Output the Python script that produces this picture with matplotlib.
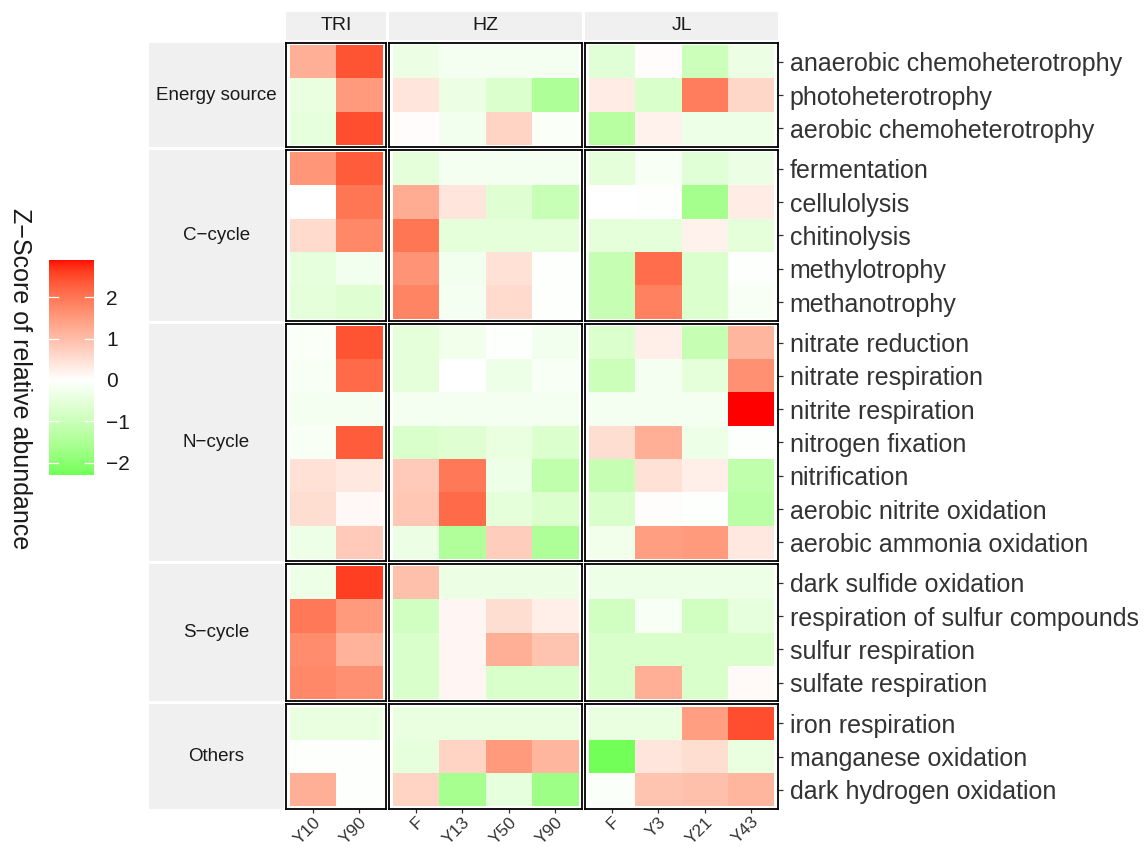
import numpy as np
import matplotlib
matplotlib.use("Agg")
import matplotlib.pyplot as plt
from matplotlib.colors import ListedColormap, Normalize

plt.rcParams['font.family'] = ['Liberation Sans', 'DejaVu Sans']

sites = ["TRI", "HZ", "JL"]
samples = {
    "TRI": ["Y10", "Y90"],
    "HZ": ["F", "Y13", "Y50", "Y90"],
    "JL": ["F", "Y3", "Y21", "Y43"],
}
groups = ["Energy source", "C\u2212cycle", "N\u2212cycle", "S\u2212cycle", "Others"]
group_sizes = [3, 5, 7, 4, 3]
functions = [
    "anaerobic chemoheterotrophy", "photoheterotrophy", "aerobic chemoheterotrophy",
    "fermentation", "cellulolysis", "chitinolysis", "methylotrophy", "methanotrophy",
    "nitrate reduction", "nitrate respiration", "nitrite respiration", "nitrogen fixation",
    "nitrification", "aerobic nitrite oxidation", "aerobic ammonia oxidation",
    "dark sulfide oxidation", "respiration of sulfur compounds", "sulfur respiration",
    "sulfate respiration",
    "iron respiration", "manganese oxidation", "dark hydrogen oxidation",
]

# z-scores, one row per function
tri_z = [
    [1.2, 2.4], [-0.45, 1.5], [-0.5, 2.45],
    [1.55, 2.3], [0.0, 2.0], [0.55, 1.75], [-0.5, -0.25], [-0.55, -0.65],
    [-0.1, 2.4], [-0.15, 2.15], [-0.2, -0.2], [-0.15, 2.3], [0.45, 0.35], [0.5, 0.1], [-0.35, 0.8],
    [-0.35, 2.6], [1.95, 1.5], [1.7, 1.15], [1.75, 1.65],
    [-0.45, -0.45], [-0.03, -0.03], [1.2, -0.03],
]
hz_z = [
    [-0.4, -0.2, -0.2, -0.2], [0.4, -0.4, -0.7, -1.5], [0.05, -0.25, 0.65, -0.1],
    [-0.55, -0.2, -0.2, -0.2], [1.25, 0.4, -0.65, -1.05], [2.0, -0.55, -0.55, -0.55],
    [1.6, -0.25, 0.45, -0.05], [1.8, -0.2, 0.55, -0.05],
    [-0.55, -0.3, -0.03, -0.25], [-0.55, 0.0, -0.35, -0.15], [-0.2, -0.2, -0.2, -0.2],
    [-0.75, -0.65, -0.45, -0.7], [0.8, 1.95, -0.35, -1.2], [0.85, 2.15, -0.55, -0.7],
    [-0.4, -1.45, 0.75, -1.5],
    [0.95, -0.4, -0.4, -0.4], [-0.9, 0.15, 0.5, 0.25], [-0.75, 0.15, 1.2, 0.9],
    [-0.75, 0.15, -0.75, -0.75],
    [-0.45, -0.45, -0.45, -0.45], [-0.5, 0.65, 1.5, 1.1], [0.65, -1.6, -0.5, -1.75],
]
jl_z = [
    [-0.6, 0.05, -1.0, -0.4], [0.3, -0.75, 1.9, 0.6], [-1.35, 0.2, -0.35, -0.35],
    [-0.55, -0.15, -0.6, -0.4], [0.0, -0.05, -1.65, 0.3], [-0.55, -0.55, 0.2, -0.55],
    [-1.1, 2.1, -0.7, -0.05], [-1.1, 1.85, -0.7, -0.15],
    [-0.7, 0.25, -1.1, 1.1], [-1.0, -0.2, -0.55, 1.65], [-0.2, -0.2, -0.2, 2.9],
    [0.5, 1.2, -0.35, -0.05], [-1.1, 0.45, 0.25, -1.2], [-0.75, 0.03, -0.05, -1.3],
    [-0.3, 1.45, 1.5, 0.35],
    [-0.35, -0.35, -0.35, -0.35], [-0.9, -0.15, -0.9, -0.5], [-0.75, -0.75, -0.75, -0.75],
    [-0.75, 1.2, -0.75, 0.08],
    [-0.45, -0.45, 1.45, 2.45], [-2.3, 0.4, 0.5, -0.45], [-0.08, 0.9, 0.95, 1.1],
]
values = {"TRI": np.array(tri_z), "HZ": np.array(hz_z), "JL": np.array(jl_z)}


def lab_to_rgb(lab):
    L, a, b = lab[:, 0], lab[:, 1], lab[:, 2]
    fy = (L + 16) / 116
    fx = fy + a / 500
    fz = fy - b / 200

    def finv(t):
        return np.where(t > 6 / 29, t ** 3, 3 * (6 / 29) ** 2 * (t - 4 / 29))

    xyz = np.stack([0.95047 * finv(fx), finv(fy), 1.08883 * finv(fz)], axis=-1)
    m = np.array([[3.2406, -1.5372, -0.4986],
                  [-0.9689, 1.8758, 0.0415],
                  [0.0557, -0.2040, 1.0570]])
    rgb = xyz @ m.T
    rgb = np.where(rgb > 0.0031308,
                   1.055 * np.clip(rgb, 0.0031308, None) ** (1 / 2.4) - 0.055,
                   12.92 * rgb)
    return np.clip(rgb, 0, 1)


# green - white - red, interpolated in Lab space
white = np.array([100.0, 0.0, 0.0])
green = np.array([87.73, -86.18, 83.18])
red = np.array([53.24, 80.09, 67.20])
t = np.linspace(-1, 1, 511)[:, None]
lab = np.where(t < 0, white + (-t) * (green - white), white + t * (red - white))
cmap = ListedColormap(lab_to_rgb(lab))

all_z = np.concatenate([values[s].ravel() for s in sites])
zmax = np.abs(all_z).max()
norm = Normalize(-zmax, zmax)

W, H = 1144, 847
fig = plt.figure(figsize=(W / 100, H / 100), dpi=100)


def px_axes(x0, y0, x1, y1):
    return fig.add_axes([x0 / W, 1 - y1 / H, (x1 - x0) / W, (y1 - y0) / H])


cell_w, cell_h = 46.5, 33.3
pad_x, pad_y = 3.5, 2.1
gap = 3.0
left0, top0 = 286.0, 43.0
strip_bg = "#F0F0F0"
text_col = "#333333"

# panel column extents
col_ext = []
x = left0
for s in sites:
    w = len(samples[s]) * cell_w + 2 * pad_x
    col_ext.append((x, x + w))
    x += w + gap

# panel row extents
row_ext = []
y = top0
for n in group_sizes:
    h = n * cell_h + 2 * pad_y
    row_ext.append((y, y + h))
    y += h + gap

starts = np.cumsum([0] + group_sizes)
for gi, (y0, y1) in enumerate(row_ext):
    rows = slice(starts[gi], starts[gi + 1])
    nrow = group_sizes[gi]
    for si, s in enumerate(sites):
        x0, x1 = col_ext[si]
        ax = px_axes(x0, y0, x1, y1)
        z = values[s][rows]
        ncol = z.shape[1]
        ax.pcolormesh(np.arange(ncol + 1) - 0.5, np.arange(nrow + 1) - 0.5, z,
                      cmap=cmap, norm=norm)
        ax.set_xlim(-0.5 - pad_x / cell_w, ncol - 0.5 + pad_x / cell_w)
        ax.set_ylim(nrow - 0.5 + pad_y / cell_h, -0.5 - pad_y / cell_h)
        for sp in ax.spines.values():
            sp.set_color("black")
            sp.set_linewidth(1.3)
        ax.tick_params(length=3.5, width=0.9, color=text_col, labelcolor=text_col)
        if si == len(sites) - 1:
            ax.yaxis.tick_right()
            ax.set_yticks(range(nrow))
            ax.set_yticklabels(functions[rows], fontsize=18)
            ax.tick_params(axis="y", pad=5)
        else:
            ax.set_yticks([])
        if gi == len(groups) - 1:
            ax.set_xticks(range(ncol))
            ax.set_xticklabels(samples[s], fontsize=12.5, rotation=45,
                               ha="right", rotation_mode="anchor")
            ax.tick_params(axis="x", length=3, pad=1)
        else:
            ax.set_xticks([])

    # row strip on the left
    sax = px_axes(149, y0, 284, y1)
    sax.set_facecolor(strip_bg)
    sax.set_xticks([])
    sax.set_yticks([])
    for sp in sax.spines.values():
        sp.set_visible(False)
    sax.text(0.5, 0.5, groups[gi], ha="center", va="center", fontsize=13.5,
             color="#1A1A1A", transform=sax.transAxes)

# column strips on top
for si, s in enumerate(sites):
    x0, x1 = col_ext[si]
    tax = px_axes(x0, 12, x1, 40)
    tax.set_facecolor(strip_bg)
    tax.set_xticks([])
    tax.set_yticks([])
    for sp in tax.spines.values():
        sp.set_visible(False)
    tax.text(0.5, 0.5, s, ha="center", va="center", fontsize=14,
             color="#1A1A1A", transform=tax.transAxes)

# colour bar
zmin, zmaxv = all_z.min(), all_z.max()
cax = px_axes(49, 260, 94, 475)
grad = np.linspace(zmin, zmaxv, 300)[:, None]
cax.imshow(grad, cmap=cmap, norm=norm, aspect="auto", origin="lower",
           extent=[0, 1, zmin, zmaxv])
ticks = [-2, -1, 0, 1, 2]
for v in ticks:
    cax.plot([0, 0.2], [v, v], color="white", lw=0.9)
    cax.plot([0.8, 1], [v, v], color="white", lw=0.9)
cax.set_xlim(0, 1)
cax.set_ylim(zmin, zmaxv)
cax.set_xticks([])
cax.yaxis.tick_right()
cax.set_yticks(ticks)
cax.set_yticklabels([str(v).replace("-", "\u2212") for v in ticks], fontsize=15)
cax.tick_params(axis="y", length=0, pad=9, labelcolor="#1A1A1A")
for sp in cax.spines.values():
    sp.set_visible(False)

fig.text(20 / W, 1 - 379 / H, "Z\u2212Score of relative abundance", rotation=270,
         ha="center", va="center", fontsize=18, color="#1A1A1A")

fig.savefig("out.png", dpi=100)
